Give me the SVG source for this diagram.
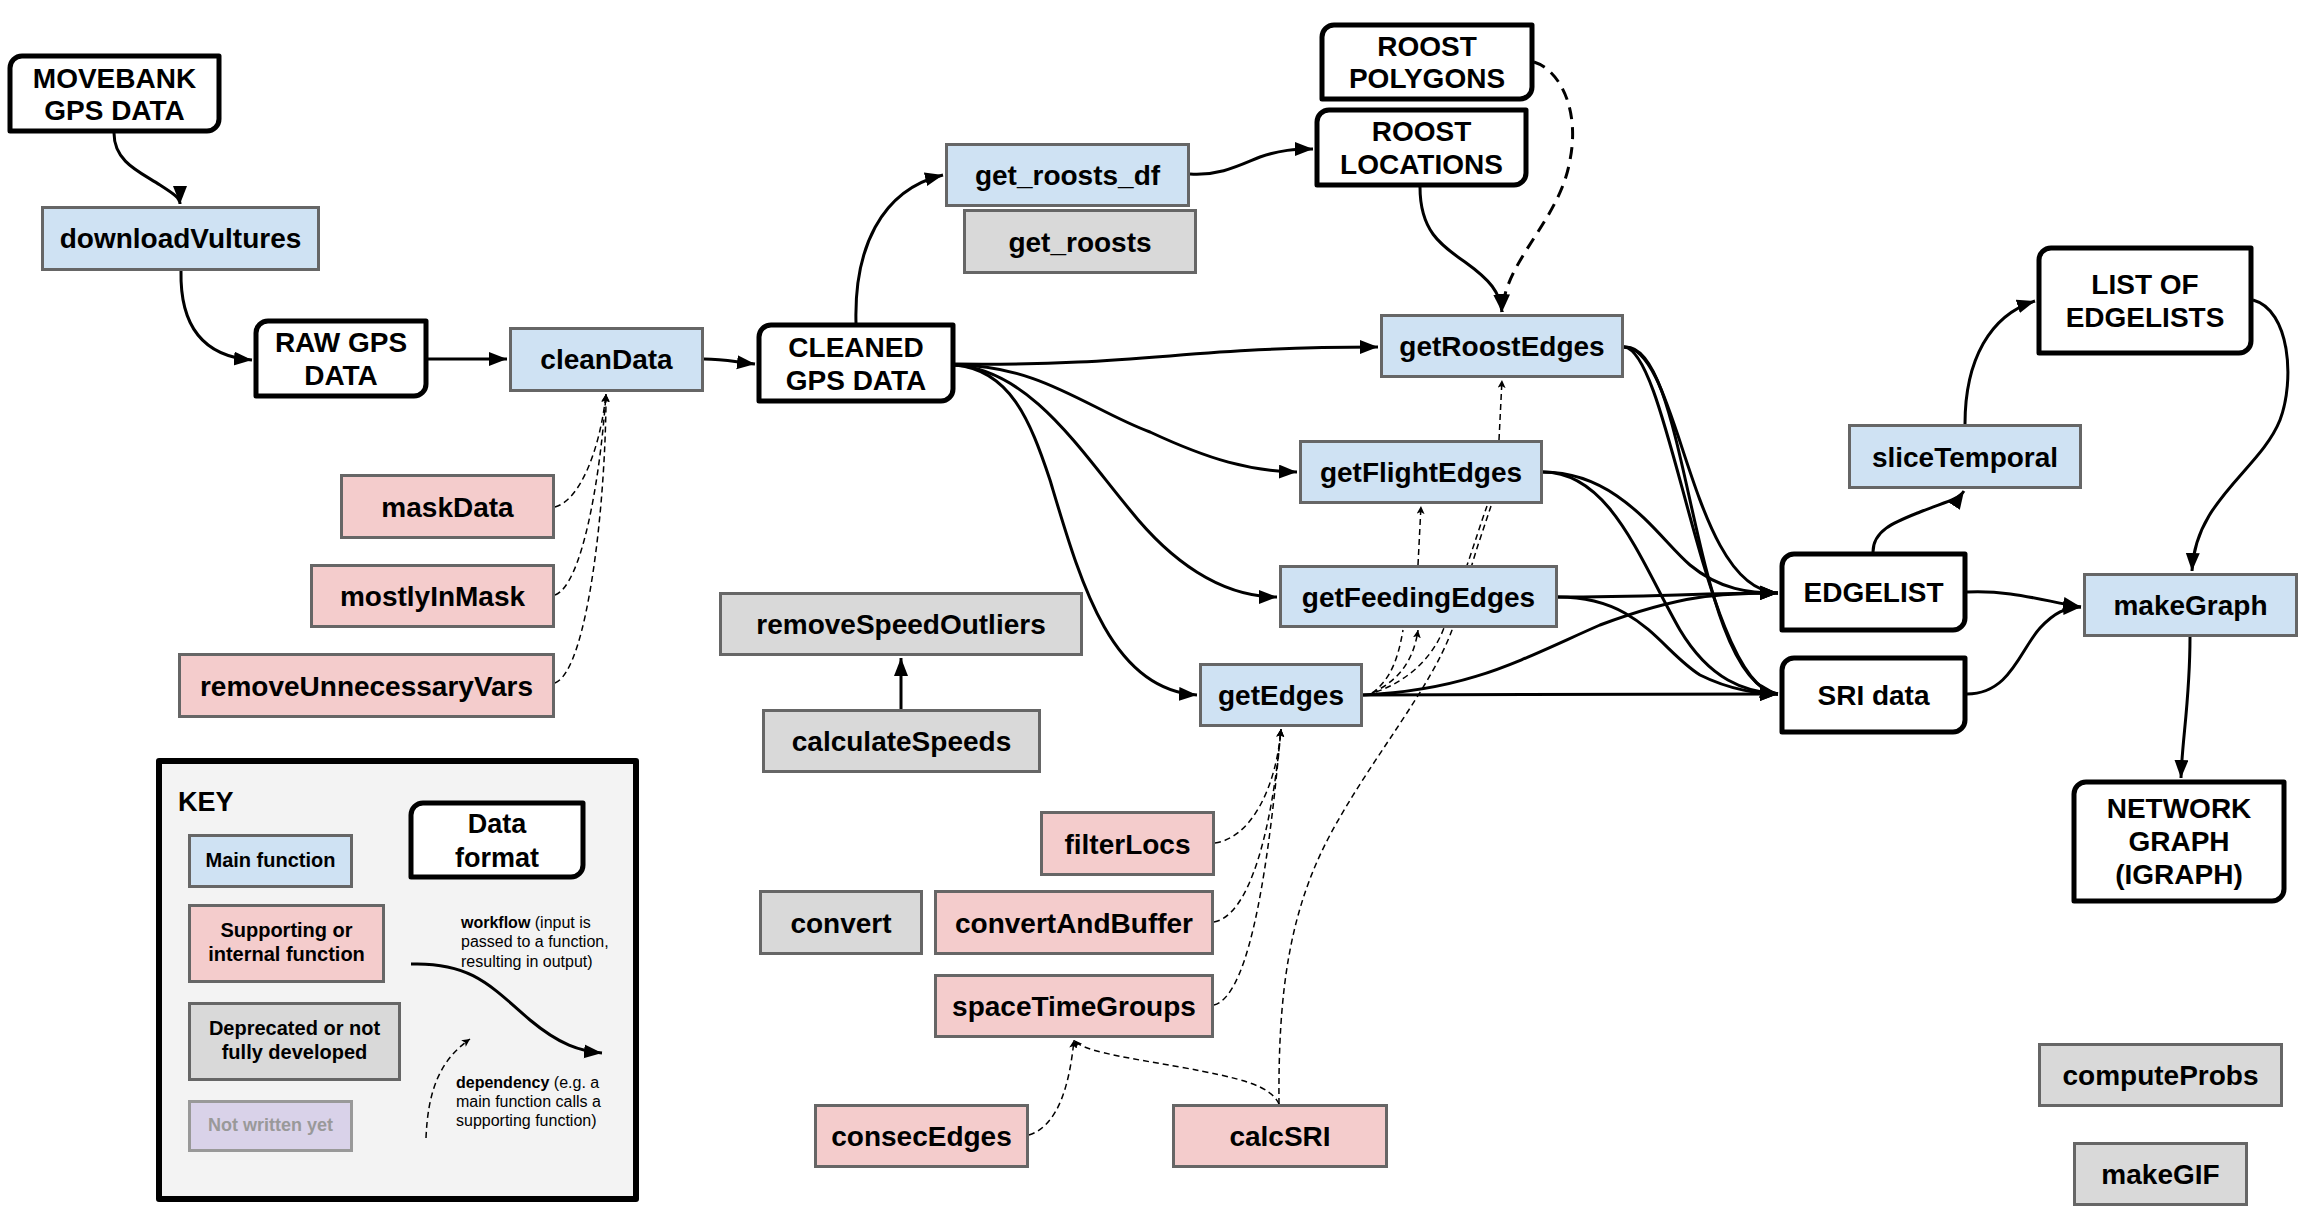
<svg xmlns="http://www.w3.org/2000/svg" width="2311" height="1222" viewBox="0 0 2311 1222">
<defs>
<style>
.t{font-family:"Liberation Sans",Arial,sans-serif;font-weight:bold;font-size:28px;text-anchor:middle;fill:#000}
.k{font-family:"Liberation Sans",Arial,sans-serif;font-weight:bold;font-size:20px;text-anchor:middle;fill:#000}
.s{font-family:"Liberation Sans",Arial,sans-serif;font-size:16px;fill:#000}
.main{fill:#cfe2f3;stroke:#666;stroke-width:3}
.sup{fill:#f4cccc;stroke:#666;stroke-width:3}
.dep{fill:#d9d9d9;stroke:#666;stroke-width:3}
.nw{fill:#d9d2e9;stroke:#999;stroke-width:3}
.data{fill:#fff;stroke:#000;stroke-width:5;stroke-linejoin:round}
.wf{fill:none;stroke:#000;stroke-width:3;marker-end:url(#ah)}
.wfd{fill:none;stroke:#000;stroke-width:3;stroke-dasharray:12 8;marker-end:url(#ah)}
.dp{fill:none;stroke:#000;stroke-width:1.5;stroke-dasharray:6 4;marker-end:url(#dh)}
.dpn{fill:none;stroke:#000;stroke-width:1.5;stroke-dasharray:6 4}
</style>
<marker id="ah" markerUnits="userSpaceOnUse" markerWidth="20" markerHeight="16" refX="18" refY="7" orient="auto"><path d="M0,0 L18,7 L0,14 z" fill="#000"/></marker>
<marker id="dh" markerUnits="userSpaceOnUse" markerWidth="10" markerHeight="10" refX="8" refY="4" orient="auto"><path d="M0,0 L8,4 L0,8 L2,4 z" fill="#000"/></marker>
</defs>
<rect width="2311" height="1222" fill="#fff"/>

<g id="connectors">
<path class="wf" d="M114,133 C114,162 140,172 160,185 C174,194 180,198 180,204"/>
<path class="wf" d="M181,271 C180,322 200,356 252,360"/>
<path class="wf" d="M428,359 L507,359"/>
<path class="wf" d="M704,359 C725,359 735,362 755,364"/>
<path class="wf" d="M856,323 C854,250 880,190 943,175"/>
<path class="wf" d="M1190,174 C1220,176 1240,165 1260,157 C1280,150 1295,149 1313,149"/>
<path class="wf" d="M1420,187 C1420,230 1440,245 1465,262 C1490,280 1500,292 1502,312"/>
<path class="wfd" d="M1534,62 C1560,70 1580,110 1570,160 C1560,220 1505,260 1502,312"/>
<path class="wf" d="M955,364 C1150,366 1180,347 1378,347"/>
<path class="wf" d="M955,365 C1040,365 1090,410 1150,432 C1210,460 1250,471 1297,472"/>
<path class="wf" d="M955,365 C1030,370 1080,450 1130,510 C1170,560 1220,597 1277,597"/>
<path class="wf" d="M955,365 C1010,370 1030,420 1050,480 C1080,580 1110,690 1197,695"/>
<path class="wf" d="M901,709 L901,658"/>
<path class="wf" d="M1624,347 C1680,347 1690,590 1778,593"/>
<path class="wf" d="M1624,347 C1690,340 1690,680 1778,694"/>
<path class="wf" d="M1624,347 C1670,350 1705,690 1778,694"/>
<path class="wf" d="M1543,472 C1620,472 1660,540 1690,565 C1720,590 1750,593 1778,593"/>
<path class="wf" d="M1543,472 C1610,472 1640,560 1680,630 C1710,680 1745,692 1778,694"/>
<path class="wf" d="M1558,597 C1650,597 1700,593 1778,593"/>
<path class="wf" d="M1558,597 C1640,597 1660,650 1700,675 C1730,690 1760,694 1778,694"/>
<path class="wf" d="M1363,695 C1470,690 1520,660 1600,625 C1680,595 1720,593 1778,593"/>
<path class="wf" d="M1363,695 L1778,694"/>
<path class="wf" d="M1873,552 C1873,530 1895,522 1920,512 C1945,502 1958,500 1964,491"/>
<path class="wf" d="M1965,424 C1965,360 1990,315 2035,301"/>
<path class="wf" d="M2253,300 C2290,310 2295,380 2280,420 C2260,470 2195,500 2192,571"/>
<path class="wf" d="M1967,592 C2010,590 2040,600 2081,607"/>
<path class="wf" d="M1967,694 C2010,694 2020,650 2040,628 C2055,612 2065,608 2081,607"/>
<path class="wf" d="M2190,637 C2190,700 2182,740 2181,778"/>

<path class="dp" d="M555,507 C580,500 600,450 606,394"/>
<path class="dp" d="M555,595 C582,585 600,480 606,394"/>
<path class="dp" d="M555,683 C588,670 606,500 606,394"/>
<path class="dp" d="M1215,843 C1250,838 1276,790 1281,729"/>
<path class="dp" d="M1214,922 C1250,915 1272,830 1281,729"/>
<path class="dp" d="M1214,1005 C1252,995 1270,850 1281,729"/>
<path class="dp" d="M1029,1135 C1060,1125 1070,1080 1074,1040"/>
<path class="dp" d="M1279,1104 C1270,1085 1240,1078 1180,1067 C1110,1055 1082,1050 1074,1040"/>
<path class="dpn" d="M1279,1104 C1278,990 1290,910 1330,835 C1370,760 1430,690 1452,630 C1462,600 1470,570 1478,545 L1491,506"/>
<path class="dp" d="M1372,693 C1395,682 1413,665 1418,630"/>
<path class="dpn" d="M1372,693 C1390,680 1398,660 1403,630"/>
<path class="dpn" d="M1376,692 C1410,680 1435,655 1445,625 C1460,590 1475,540 1487,506"/>
<path class="dp" d="M1418,565 L1421,506"/>
<path class="dp" d="M1499,440 L1502,380"/>
</g>

<g id="n-movebank"><path class="data" d="M10,68 A12,12 0 0 1 22,56 H219 V119 A12,12 0 0 1 207,131 H10 Z"/><text class="t" x="114.5" y="88">MOVEBANK</text><text class="t" x="114.5" y="120">GPS DATA</text></g>
<g id="n-downloadVultures"><rect class="main" x="42.5" y="207.5" width="276" height="62"/><text class="t" x="180.5" y="248">downloadVultures</text></g>
<g id="n-raw"><path class="data" d="M256,333 A12,12 0 0 1 268,321 H426 V384 A12,12 0 0 1 414,396 H256 Z"/><text class="t" x="341" y="352">RAW GPS</text><text class="t" x="341" y="385">DATA</text></g>
<g id="n-cleanData"><rect class="main" x="510.5" y="328.5" width="192" height="62"/><text class="t" x="606.5" y="369">cleanData</text></g>
<g id="n-cleaned"><path class="data" d="M759,337 A12,12 0 0 1 771,325 H953 V389 A12,12 0 0 1 941,401 H759 Z"/><text class="t" x="856" y="357">CLEANED</text><text class="t" x="856" y="390">GPS DATA</text></g>
<g id="n-get_roosts_df"><rect class="main" x="946.5" y="144.5" width="242" height="61"/><text class="t" x="1067.5" y="185">get_roosts_df</text></g>
<g id="n-get_roosts"><rect class="dep" x="964.5" y="210.5" width="231" height="62"/><text class="t" x="1080" y="251.5">get_roosts</text></g>
<g id="n-roostpolygons"><path class="data" d="M1322,37 A12,12 0 0 1 1334,25 H1532 V87 A12,12 0 0 1 1520,99 H1322 Z"/><text class="t" x="1427" y="56">ROOST</text><text class="t" x="1427" y="88">POLYGONS</text></g>
<g id="n-roostlocations"><path class="data" d="M1317,122 A12,12 0 0 1 1329,110 H1526 V173 A12,12 0 0 1 1514,185 H1317 Z"/><text class="t" x="1421.5" y="141">ROOST</text><text class="t" x="1421.5" y="174">LOCATIONS</text></g>
<g id="n-getRoostEdges"><rect class="main" x="1381.5" y="315.5" width="241" height="61"/><text class="t" x="1502" y="356">getRoostEdges</text></g>
<g id="n-getFlightEdges"><rect class="main" x="1300.5" y="441.5" width="241" height="61"/><text class="t" x="1421" y="482">getFlightEdges</text></g>
<g id="n-getFeedingEdges"><rect class="main" x="1280.5" y="566.5" width="276" height="60"/><text class="t" x="1418.5" y="606.5">getFeedingEdges</text></g>
<g id="n-getEdges"><rect class="main" x="1200.5" y="664.5" width="161" height="61"/><text class="t" x="1281" y="705">getEdges</text></g>
<g id="n-removeSpeedOutliers"><rect class="dep" x="720.5" y="593.5" width="361" height="61"/><text class="t" x="901" y="634">removeSpeedOutliers</text></g>
<g id="n-calculateSpeeds"><rect class="dep" x="763.5" y="710.5" width="276" height="61"/><text class="t" x="901.5" y="751">calculateSpeeds</text></g>
<g id="n-maskData"><rect class="sup" x="341.5" y="475.5" width="212" height="62"/><text class="t" x="447.5" y="516.5">maskData</text></g>
<g id="n-mostlyInMask"><rect class="sup" x="311.5" y="565.5" width="242" height="61"/><text class="t" x="432.5" y="606">mostlyInMask</text></g>
<g id="n-removeUnnecessaryVars"><rect class="sup" x="179.5" y="654.5" width="374" height="62"/><text class="t" x="366.5" y="695.5">removeUnnecessaryVars</text></g>
<g id="n-filterLocs"><rect class="sup" x="1041.5" y="812.5" width="172" height="62"/><text class="t" x="1127.5" y="853.5">filterLocs</text></g>
<g id="n-convert"><rect class="dep" x="760.5" y="891.5" width="161" height="62"/><text class="t" x="841" y="932.5">convert</text></g>
<g id="n-convertAndBuffer"><rect class="sup" x="935.5" y="891.5" width="277" height="62"/><text class="t" x="1074" y="932.5">convertAndBuffer</text></g>
<g id="n-spaceTimeGroups"><rect class="sup" x="935.5" y="975.5" width="277" height="61"/><text class="t" x="1074" y="1016">spaceTimeGroups</text></g>
<g id="n-consecEdges"><rect class="sup" x="815.5" y="1105.5" width="212" height="61"/><text class="t" x="921.5" y="1146">consecEdges</text></g>
<g id="n-calcSRI"><rect class="sup" x="1173.5" y="1105.5" width="213" height="61"/><text class="t" x="1280" y="1146">calcSRI</text></g>
<g id="n-edgelist"><path class="data" d="M1782,566 A12,12 0 0 1 1794,554 H1965 V618 A12,12 0 0 1 1953,630 H1782 Z"/><text class="t" x="1873.5" y="602">EDGELIST</text></g>
<g id="n-sridata"><path class="data" d="M1782,670 A12,12 0 0 1 1794,658 H1965 V720 A12,12 0 0 1 1953,732 H1782 Z"/><text class="t" x="1873.5" y="705">SRI data</text></g>
<g id="n-sliceTemporal"><rect class="main" x="1849.5" y="425.5" width="231" height="62"/><text class="t" x="1965" y="466.5">sliceTemporal</text></g>
<g id="n-listofedgelists"><path class="data" d="M2039,260 A12,12 0 0 1 2051,248 H2251 V341 A12,12 0 0 1 2239,353 H2039 Z"/><text class="t" x="2145" y="294">LIST OF</text><text class="t" x="2145" y="327">EDGELISTS</text></g>
<g id="n-makeGraph"><rect class="main" x="2084.5" y="574.5" width="212" height="61"/><text class="t" x="2190.5" y="615">makeGraph</text></g>
<g id="n-networkgraph"><path class="data" d="M2074,794 A12,12 0 0 1 2086,782 H2284 V889 A12,12 0 0 1 2272,901 H2074 Z"/><text class="t" x="2179" y="818">NETWORK</text><text class="t" x="2179" y="851">GRAPH</text><text class="t" x="2179" y="884">(IGRAPH)</text></g>
<g id="n-computeProbs"><rect class="dep" x="2039.5" y="1044.5" width="242" height="61"/><text class="t" x="2160.5" y="1085">computeProbs</text></g>
<g id="n-makeGIF"><rect class="dep" x="2074.5" y="1143.5" width="172" height="61"/><text class="t" x="2160.5" y="1184">makeGIF</text></g>

<g id="key">
<rect x="159" y="761" width="477" height="438" fill="#f3f3f3" stroke="#000" stroke-width="6" stroke-linejoin="round"/>
<text class="t" x="178" y="811" style="text-anchor:start;font-size:27px">KEY</text>
<rect class="main" x="189.5" y="835.5" width="162" height="51"/><text class="k" x="270.5" y="867">Main function</text>
<rect class="sup" x="189.5" y="905.5" width="194" height="76"/><text class="k" x="286.5" y="937">Supporting or</text><text class="k" x="286.5" y="961">internal function</text>
<rect class="dep" x="189.5" y="1003.5" width="210" height="76"/><text class="k" x="294.5" y="1035">Deprecated or not</text><text class="k" x="294.5" y="1059">fully developed</text>
<rect class="nw" x="189.5" y="1101.5" width="162" height="49"/><text class="k" x="270.5" y="1131" style="font-size:18px;fill:#999">Not written yet</text>
<path class="data" d="M411,815 A12,12 0 0 1 423,803 H583 V865 A12,12 0 0 1 571,877 H411 Z"/><text class="t" x="497" y="833" style="font-size:27px">Data</text><text class="t" x="497" y="867" style="font-size:27px">format</text>
<path class="wf" d="M411,964 C470,962 490,985 530,1020 C560,1045 580,1051 602,1053"/>
<text class="s" x="461" y="928"><tspan font-weight="bold">workflow</tspan> (input is</text>
<text class="s" x="461" y="947">passed to a function,</text>
<text class="s" x="461" y="967">resulting in output)</text>
<path class="dp" d="M426,1138 C428,1090 440,1060 470,1039"/>
<text class="s" x="456" y="1088"><tspan font-weight="bold">dependency</tspan> (e.g. a</text>
<text class="s" x="456" y="1107">main function calls a</text>
<text class="s" x="456" y="1126">supporting function)</text>
</g>
</svg>
